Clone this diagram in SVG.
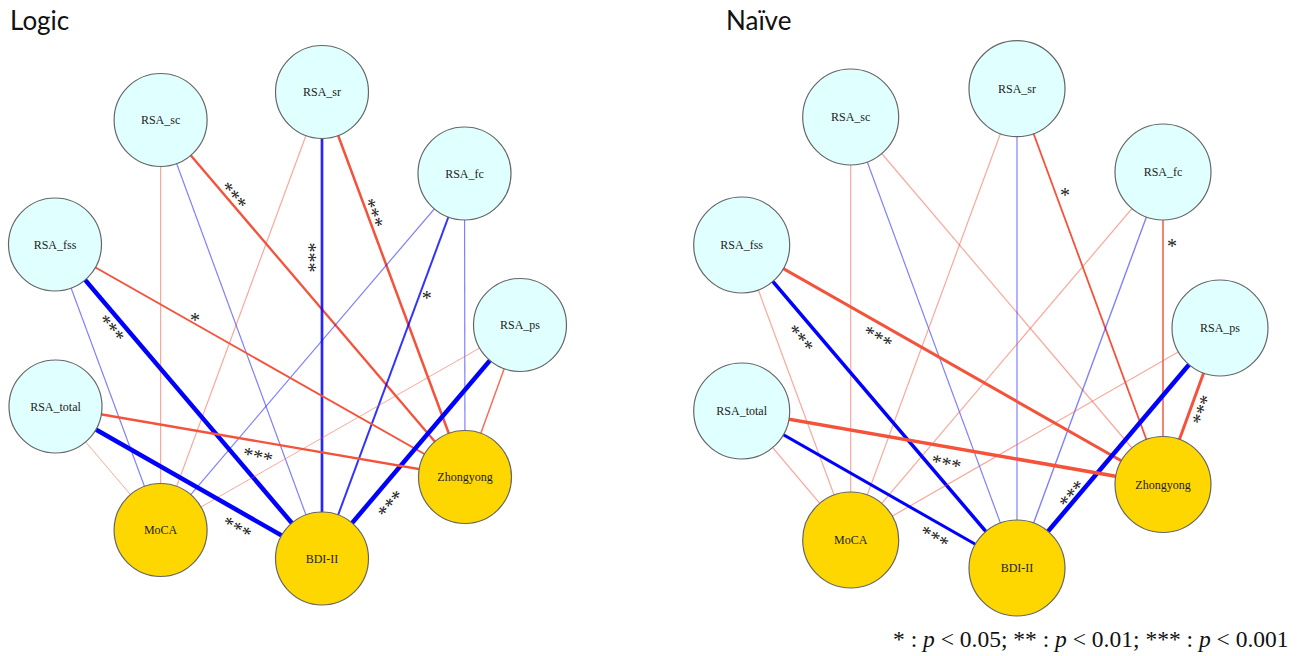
<svg xmlns="http://www.w3.org/2000/svg" width="1309" height="656" viewBox="0 0 1309 656">
<style>
.bg{fill:#ffffff}
.title{font-family:Lato,"Open Sans","Liberation Sans",sans-serif;font-size:26px;fill:#111}
.rsa{fill:#e0ffff;stroke:#666;stroke-width:1.2}
.out{fill:#ffd700;stroke:#666;stroke-width:1.2}
.lab{font-family:"Liberation Serif","DejaVu Serif",serif;font-size:12px;fill:#222;text-anchor:middle}
.r{stroke:#f4523a;fill:none}
.r1{stroke:#f4523a;stroke-opacity:0.5;fill:none}
.b{stroke:#0000ff;fill:none}
.b1{stroke:#0000ff;stroke-opacity:0.5;fill:none}
.sig{font-family:"Liberation Serif","DejaVu Serif",serif;font-size:20px;fill:#222;text-anchor:middle}
.leg{font-family:"Liberation Serif","DejaVu Serif",serif;font-size:23.5px;fill:#111}
</style>
<rect class="bg" x="0" y="0" width="1309" height="656"/>
<text class="title" x="10" y="30">Logic</text>
<text class="title" x="726" y="30">Naïve</text>

<g id="connectors">
<!-- Left panel -->
<line class="r1" stroke-width="1.2" x1="160.6" y1="120" x2="160.6" y2="530"/>
<line class="b1" stroke-width="1.2" x1="160.6" y1="120" x2="322" y2="558.5"/>
<line class="r" stroke-width="2.3" x1="160.6" y1="120" x2="465" y2="477"/>
<line class="r1" stroke-width="1.2" x1="322" y1="92" x2="160.6" y2="530"/>
<line class="b" stroke-width="2.7" stroke-opacity="0.85" x1="322" y1="92" x2="322" y2="558.5"/>
<line class="r" stroke-width="2.5" x1="322" y1="92" x2="465" y2="477"/>
<line class="b1" stroke-width="1.2" x1="464.5" y1="173.5" x2="160.6" y2="530"/>
<line class="b" stroke-width="2" stroke-opacity="0.8" x1="464.5" y1="173.5" x2="322" y2="558.5"/>
<line class="b1" stroke-width="1.2" x1="464.5" y1="173.5" x2="465" y2="477"/>
<line class="b1" stroke-width="1.2" x1="55" y1="244.5" x2="160.6" y2="530"/>
<line class="b" stroke-width="4.5" x1="55" y1="244.5" x2="322" y2="558.5"/>
<line class="r" stroke-width="1.8" x1="55" y1="244.5" x2="465" y2="477"/>
<line class="r1" stroke-width="1" stroke-opacity="0.4" x1="520" y1="325" x2="160.6" y2="530"/>
<line class="b" stroke-width="4.5" x1="520" y1="325" x2="322" y2="558.5"/>
<line class="r" stroke-width="1.5" stroke-opacity="0.85" x1="520" y1="325" x2="465" y2="477"/>
<line class="r1" stroke-width="1" stroke-opacity="0.4" x1="55.5" y1="406.5" x2="160.6" y2="530"/>
<line class="b" stroke-width="4.5" x1="55.5" y1="406.5" x2="322" y2="558.5"/>
<line class="r" stroke-width="2.3" x1="55.5" y1="406.5" x2="465" y2="477"/>
<!-- Right panel -->
<line class="r1" stroke-width="1.2" x1="850.7" y1="117" x2="850.7" y2="540"/>
<line class="b1" stroke-width="1.2" x1="850.7" y1="117" x2="1017" y2="568"/>
<line class="r1" stroke-width="1.2" x1="850.7" y1="117" x2="1163" y2="484.5"/>
<line class="r1" stroke-width="1.2" x1="1017" y1="88.7" x2="850.7" y2="540"/>
<line class="b1" stroke-width="1.2" x1="1017" y1="88.7" x2="1017" y2="568"/>
<line class="r" stroke-width="1.8" x1="1017" y1="88.7" x2="1163" y2="484.5"/>
<line class="r1" stroke-width="1.2" x1="1163" y1="172" x2="850.7" y2="540"/>
<line class="b1" stroke-width="1.4" stroke-opacity="0.65" x1="1163" y1="172" x2="1017" y2="568"/>
<line class="r" stroke-width="1.6" stroke-opacity="0.9" x1="1163" y1="172" x2="1163" y2="484.5"/>
<line class="r1" stroke-width="1.2" x1="741.7" y1="245" x2="850.7" y2="540"/>
<line class="b" stroke-width="3.5" x1="741.7" y1="245" x2="1017" y2="568"/>
<line class="r" stroke-width="3" x1="741.7" y1="245" x2="1163" y2="484.5"/>
<line class="r1" stroke-width="1.2" x1="1220" y1="328" x2="850.7" y2="540"/>
<line class="b" stroke-width="4.5" x1="1220" y1="328" x2="1017" y2="568"/>
<line class="r" stroke-width="3" x1="1220" y1="328" x2="1163" y2="484.5"/>
<line class="r1" stroke-width="1.2" x1="741.7" y1="411" x2="850.7" y2="540"/>
<line class="b" stroke-width="3" x1="741.7" y1="411" x2="1017" y2="568"/>
<line class="r" stroke-width="3.5" x1="741.7" y1="411" x2="1163" y2="484.5"/>

<!-- significance labels, left -->
<text class="sig" transform="translate(235.7,194) rotate(49.6)" y="10">***</text>
<text class="sig" transform="translate(375.7,212.3) rotate(69.6)" y="10">***</text>
<text class="sig" transform="translate(312.3,257.5) rotate(90)" y="10">***</text>
<text class="sig" transform="translate(426.7,295)" y="10">*</text>
<text class="sig" transform="translate(113.3,326.7) rotate(49.6)" y="10">***</text>
<text class="sig" transform="translate(195,317.3)" y="10">*</text>
<text class="sig" transform="translate(258.3,453.3) rotate(13)" y="10">***</text>
<text class="sig" transform="translate(238.3,525.7) rotate(29.7)" y="10">***</text>
<text class="sig" transform="translate(388.7,502.3) rotate(-49.6)" y="10">***</text>
<!-- significance labels, right -->
<text class="sig" transform="translate(1065,192.3)" y="10">*</text>
<text class="sig" transform="translate(1172,243.3)" y="10">*</text>
<text class="sig" transform="translate(802.3,336.7) rotate(49.6)" y="10">***</text>
<text class="sig" transform="translate(879,335) rotate(29.6)" y="10">***</text>
<text class="sig" transform="translate(946.7,460.7) rotate(12)" y="10">***</text>
<text class="sig" transform="translate(935.7,535) rotate(29.7)" y="10">***</text>
<text class="sig" transform="translate(1070,492.3) rotate(-49.8)" y="10">***</text>
<text class="sig" transform="translate(1199.7,409) rotate(-70)" y="10">***</text>
</g>

<!-- Left nodes -->
<g id="L_RSA_sc"><circle class="rsa" cx="160.6" cy="120" r="46.5"/><text class="lab" x="160.6" y="124">RSA_sc</text></g>
<g id="L_RSA_sr"><circle class="rsa" cx="322" cy="92" r="46.5"/><text class="lab" x="322" y="96">RSA_sr</text></g>
<g id="L_RSA_fc"><circle class="rsa" cx="464.5" cy="173.5" r="46.5"/><text class="lab" x="464.5" y="177.5">RSA_fc</text></g>
<g id="L_RSA_fss"><circle class="rsa" cx="55" cy="244.5" r="46.5"/><text class="lab" x="55" y="248.5">RSA_fss</text></g>
<g id="L_RSA_ps"><circle class="rsa" cx="520" cy="325" r="46.5"/><text class="lab" x="520" y="329">RSA_ps</text></g>
<g id="L_RSA_total"><circle class="rsa" cx="55.5" cy="406.5" r="46.5"/><text class="lab" x="55.5" y="410.5">RSA_total</text></g>
<g id="L_Zhongyong"><circle class="out" cx="465" cy="477" r="46.5"/><text class="lab" x="465" y="481">Zhongyong</text></g>
<g id="L_MoCA"><circle class="out" cx="160.6" cy="530" r="46.5"/><text class="lab" x="160.6" y="534">MoCA</text></g>
<g id="L_BDI-II"><circle class="out" cx="322" cy="558.5" r="46.5"/><text class="lab" x="322" y="562.5">BDI-II</text></g>

<!-- Right nodes -->
<g id="R_RSA_sc"><circle class="rsa" cx="850.7" cy="117" r="48"/><text class="lab" x="850.7" y="121">RSA_sc</text></g>
<g id="R_RSA_sr"><circle class="rsa" cx="1017" cy="88.7" r="48"/><text class="lab" x="1017" y="92.7">RSA_sr</text></g>
<g id="R_RSA_fc"><circle class="rsa" cx="1163" cy="172" r="48"/><text class="lab" x="1163" y="176">RSA_fc</text></g>
<g id="R_RSA_fss"><circle class="rsa" cx="741.7" cy="245" r="48"/><text class="lab" x="741.7" y="249">RSA_fss</text></g>
<g id="R_RSA_ps"><circle class="rsa" cx="1220" cy="328" r="48"/><text class="lab" x="1220" y="332">RSA_ps</text></g>
<g id="R_RSA_total"><circle class="rsa" cx="741.7" cy="411" r="48"/><text class="lab" x="741.7" y="415">RSA_total</text></g>
<g id="R_Zhongyong"><circle class="out" cx="1163" cy="484.5" r="48"/><text class="lab" x="1163" y="488.5">Zhongyong</text></g>
<g id="R_MoCA"><circle class="out" cx="850.7" cy="540" r="48"/><text class="lab" x="850.7" y="544">MoCA</text></g>
<g id="R_BDI-II"><circle class="out" cx="1017" cy="568" r="48"/><text class="lab" x="1017" y="572">BDI-II</text></g>

<text class="leg" x="893" y="647">* : <tspan font-style="italic">p</tspan> &lt; 0.05; ** : <tspan font-style="italic">p</tspan> &lt; 0.01; *** : <tspan font-style="italic">p</tspan> &lt; 0.001</text>
</svg>
